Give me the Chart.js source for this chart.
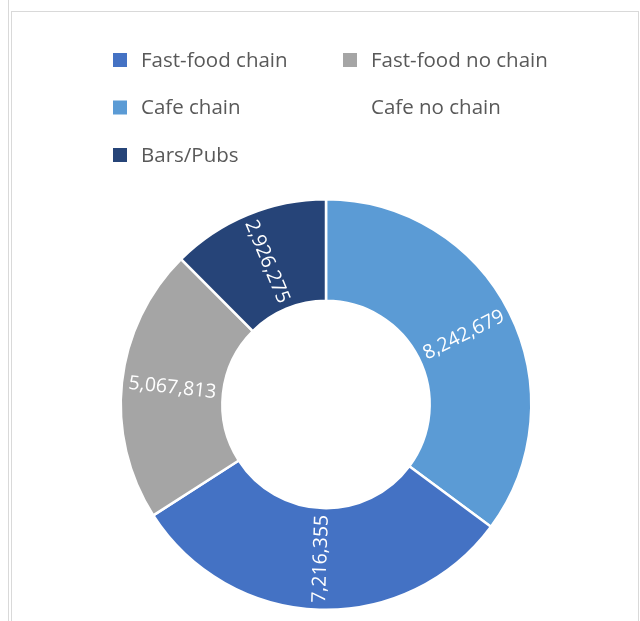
<!doctype html>
<html lang="en">
<head>
<meta charset="utf-8">
<title>Outlets by type</title>
<script src="https://cdn.jsdelivr.net/npm/chart.js"></script>
<style>
  html, body { margin: 0; padding: 0; background: #fff; }
  #wrap { position: relative; width: 640px; height: 621px; overflow: hidden; }
  .edge { position: absolute; background: #d9d9d9; }
  canvas { position: absolute; left: 0; top: 0; }
</style>
</head>
<body>
<div id="wrap">
  <div class="edge" style="left:8px;top:0;width:1px;height:621px"></div>
  <div class="edge" style="left:11px;top:11px;width:1px;height:610px"></div>
  <div class="edge" style="left:11px;top:11px;width:628px;height:1px"></div>
  <div class="edge" style="left:638px;top:11px;width:1px;height:610px"></div>
  <canvas id="venues" width="640" height="621"></canvas>
</div>
<script>
    // slices in drawing order, clockwise from 12 o'clock
    const categories = ["Cafe chain", "Cafe no chain", "Fast-food chain", "Fast-food no chain", "Bars/Pubs"];
    const visits = [8242679, 0, 7216355, 5067813, 2926275];
    const colors = ["#5b9bd5", "rgba(0,0,0,0)", "#4472c4", "#a5a5a5", "#264478"];

    // order of the entries in the legend grid
    const legendOrder = ["Fast-food chain", "Fast-food no chain", "Cafe chain", "Cafe no chain", "Bars/Pubs"];

    const FONT = '"Open Sans", "DejaVu Sans", sans-serif';

    const sliceLabels = {
        id: 'sliceLabels',
        afterDatasetsDraw(chart) {
            const ctx = chart.ctx;
            const meta = chart.getDatasetMeta(0);
            ctx.save();
            ctx.font = '19.5px ' + FONT;
            ctx.fillStyle = '#ffffff';
            ctx.textAlign = 'center';
            ctx.textBaseline = 'middle';
            meta.data.forEach((arc, i) => {
                if (!visits[i]) return;
                const pos = arc.tooltipPosition();
                let a = (arc.startAngle + arc.endAngle) / 2;
                // radial text, flipped so it never reads upside down
                while (a > Math.PI / 2) a -= Math.PI;
                while (a < -Math.PI / 2) a += Math.PI;
                ctx.save();
                ctx.translate(pos.x, pos.y);
                ctx.rotate(a);
                ctx.fillText(visits[i].toLocaleString('en-US'), 0, 0);
                ctx.restore();
            });
            ctx.restore();
        }
    };

    const gridLegend = {
        id: 'gridLegend',
        afterDraw(chart) {
            const ctx = chart.ctx;
            ctx.save();
            ctx.font = '20.5px ' + FONT;
            ctx.textBaseline = 'middle';
            ctx.textAlign = 'left';
            legendOrder.forEach((name, k) => {
                const i = categories.indexOf(name);
                const x = 113 + (k % 2) * 230;
                const y = 60 + Math.floor(k / 2) * 47.5;
                ctx.fillStyle = colors[i];
                ctx.fillRect(x, y - 7, 14, 14);
                ctx.fillStyle = '#595959';
                ctx.fillText(name, x + 28, y + 1);
            });
            ctx.restore();
        }
    };

    new Chart(document.getElementById('venues'), {
        type: 'doughnut',
        data: {
            labels: categories,
            datasets: [{
                data: visits,
                backgroundColor: colors,
                borderColor: '#ffffff',
                borderWidth: 2.5
            }]
        },
        options: {
            responsive: false,
            animation: false,
            cutout: '50.5%',
            layout: {
                padding: { left: 119.5, right: 107.5, top: 198, bottom: 10 }
            },
            plugins: {
                legend: { display: false },
                tooltip: { enabled: false }
            }
        },
        plugins: [sliceLabels, gridLegend]
    });
</script>
</body>
</html>
